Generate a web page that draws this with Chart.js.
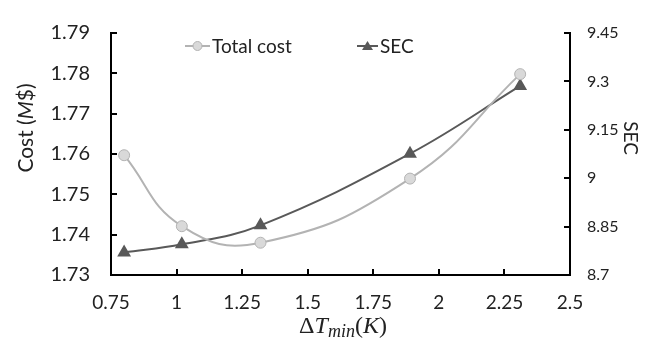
<!DOCTYPE html>
<html>
<head>
<meta charset="utf-8">
<script src="https://cdn.jsdelivr.net/npm/chart.js@4/dist/chart.umd.min.js"></script>
<style>
html,body{margin:0;padding:0;background:#fff;}
#wrap{width:656px;height:351px;}
</style>
</head>
<body>
<div id="wrap"><canvas id="c" width="656" height="351"></canvas></div>
<script>
const deltaT = [0.80, 1.02, 1.32, 1.89, 2.31];
const totalCost = [1.7597, 1.7421, 1.7380, 1.7539, 1.7798];
const secValues = [8.770, 8.795, 8.854, 9.076, 9.286];
const xTicks = [0.75, 1, 1.25, 1.5, 1.75, 2, 2.25, 2.5];
const costTicks = [1.73, 1.74, 1.75, 1.76, 1.77, 1.78, 1.79];
const secTicks = [8.7, 8.85, 9, 9.15, 9.3, 9.45];
const seriesNames = ['Total cost', 'SEC'];

const FONT = 'Lato, "Open Sans", sans-serif';
const FS = 19;
const costColor = '#b3b3b3';
const costFill = '#d9d9d9';
const secColor = '#595959';

function pts(ys){ return deltaT.map((x,i)=>({x:x, y:ys[i]})); }

const insideTicks = {
  id:'insideTicks',
  afterDraw(chart){
    const ctx = chart.ctx, a = chart.chartArea;
    ctx.save();
    ctx.strokeStyle = '#000'; ctx.lineWidth = 2;
    const L = 6;
    const xs = chart.scales.x, yl = chart.scales.y, yr = chart.scales.y2;
    xTicks.forEach(v=>{ const p = Math.round(xs.getPixelForValue(v)); ctx.beginPath(); ctx.moveTo(p, a.bottom); ctx.lineTo(p, a.bottom - L); ctx.stroke(); });
    costTicks.forEach(v=>{ const p = Math.round(yl.getPixelForValue(v)); ctx.beginPath(); ctx.moveTo(a.left, p); ctx.lineTo(a.left + L, p); ctx.stroke(); });
    secTicks.forEach(v=>{ const p = Math.round(yr.getPixelForValue(v)); ctx.beginPath(); ctx.moveTo(a.right, p); ctx.lineTo(a.right - L, p); ctx.stroke(); });
    ctx.restore();
  }
};

const titlesAndLegend = {
  id:'titlesAndLegend',
  afterDraw(chart){
    const ctx = chart.ctx;
    ctx.save();
    ctx.fillStyle = '#222';
    ctx.textBaseline = 'alphabetic';
    // left title
    ctx.save();
    ctx.translate(33, 128);
    ctx.rotate(-Math.PI/2);
    const parts = [['Cost (', '21px ' + FONT], ['M', 'italic 21px ' + FONT], ['$)', '21px ' + FONT]];
    let w = 0; parts.forEach(p=>{ ctx.font = p[1]; w += ctx.measureText(p[0]).width; });
    let x = -w/2;
    parts.forEach(p=>{ ctx.font = p[1]; ctx.fillText(p[0], x, 0); x += ctx.measureText(p[0]).width; });
    ctx.restore();
    // right title
    ctx.save();
    ctx.translate(624, 138);
    ctx.rotate(Math.PI/2);
    ctx.font = FS + 'px ' + FONT;
    ctx.textAlign = 'center';
    ctx.fillText('SEC', 0, 0);
    ctx.restore();
    // x title
    const serif = '"Liberation Serif", "DejaVu Serif", serif';
    const xp = [['Δ', '24px ' + serif, 0], ['T', 'italic 24px ' + serif, 0], ['min', 'italic 18px ' + serif, 4], ['(', '24px ' + serif, 0], ['K', 'italic 24px ' + serif, 0], [')', '24px ' + serif, 0]];
    let xw = 0; xp.forEach(p=>{ ctx.font = p[1]; xw += ctx.measureText(p[0]).width; });
    let xx = 343 - xw/2;
    xp.forEach(p=>{ ctx.font = p[1]; ctx.fillText(p[0], xx, 333 + p[2]); xx += ctx.measureText(p[0]).width; });
    // legend
    ctx.font = FS + 'px ' + FONT;
    ctx.textBaseline = 'middle';
    const ly = 46;
    ctx.lineWidth = 2;
    ctx.strokeStyle = costColor;
    ctx.beginPath(); ctx.moveTo(185, ly); ctx.lineTo(210, ly); ctx.stroke();
    ctx.fillStyle = costFill; ctx.beginPath(); ctx.arc(197.5, ly, 4.5, 0, Math.PI*2); ctx.fill(); ctx.lineWidth = 1; ctx.stroke();
    ctx.fillStyle = '#222';
    ctx.fillText(seriesNames[0], 212, ly + 1);
    ctx.lineWidth = 2;
    ctx.strokeStyle = secColor;
    ctx.beginPath(); ctx.moveTo(357, ly); ctx.lineTo(378, ly); ctx.stroke();
    ctx.fillStyle = secColor;
    ctx.beginPath(); ctx.moveTo(367.5, ly - 5); ctx.lineTo(373, ly + 4); ctx.lineTo(362, ly + 4); ctx.closePath(); ctx.fill();
    ctx.fillStyle = '#222';
    ctx.fillText(seriesNames[1], 380, ly + 1);
    ctx.restore();
  }
};

new Chart(document.getElementById('c'), {
  type:'line',
  data:{
    datasets:[
      { label:seriesNames[0], data:pts(totalCost), yAxisID:'y', borderColor:costColor, backgroundColor:costFill,
        pointBackgroundColor:costFill, pointBorderColor:costColor, pointBorderWidth:1, pointRadius:5.5, pointStyle:'circle',
        borderWidth:2, tension:0.45, fill:false },
      { label:seriesNames[1], data:pts(secValues), yAxisID:'y2', borderColor:secColor, backgroundColor:secColor,
        pointBackgroundColor:secColor, pointBorderColor:secColor, pointRadius:6, pointStyle:'triangle',
        borderWidth:2, tension:0.4, fill:false }
    ]
  },
  options:{
    responsive:false, animation:false, devicePixelRatio:1,
    layout:{ padding:{ top:16, left:0, right:0, bottom:0 } },
    plugins:{ legend:{display:false}, tooltip:{enabled:false}, title:{display:false} },
    scales:{
      x:{ type:'linear', min:0.75, max:2.5,
        afterBuildTicks(s){ s.ticks = xTicks.map(v=>({value:v})); },
        afterFit(s){ s.height = 76; },
        grid:{ display:true, drawOnChartArea:false, drawTicks:false },
        border:{ display:true, color:'#000', width:2 },
        ticks:{ padding:16, color:'#222', font:{ family:FONT, size:FS }, maxRotation:0, autoSkip:false,
          callback:(v)=>String(v) } },
      y:{ type:'linear', position:'left', min:1.73, max:1.79,
        afterBuildTicks(s){ s.ticks = costTicks.map(v=>({value:v})); },
        afterFit(s){ s.width = 111; },
        grid:{ display:true, drawOnChartArea:false, drawTicks:false },
        border:{ display:true, color:'#000', width:2 },
        ticks:{ padding:21, color:'#222', font:{ family:FONT, size:20 }, autoSkip:false,
          callback:(v)=>v.toFixed(2) } },
      y2:{ type:'linear', position:'right', min:8.7, max:9.45,
        afterBuildTicks(s){ s.ticks = secTicks.map(v=>({value:v})); },
        afterFit(s){ s.width = 86; },
        grid:{ display:true, drawOnChartArea:false, drawTicks:false },
        border:{ display:true, color:'#000', width:2 },
        ticks:{ padding:17, color:'#222', font:{ family:FONT, size:16 }, autoSkip:false,
          callback:(v)=>String(Math.round(v*100)/100) } }
    }
  },
  plugins:[insideTicks, titlesAndLegend]
});
</script>
</body>
</html>
